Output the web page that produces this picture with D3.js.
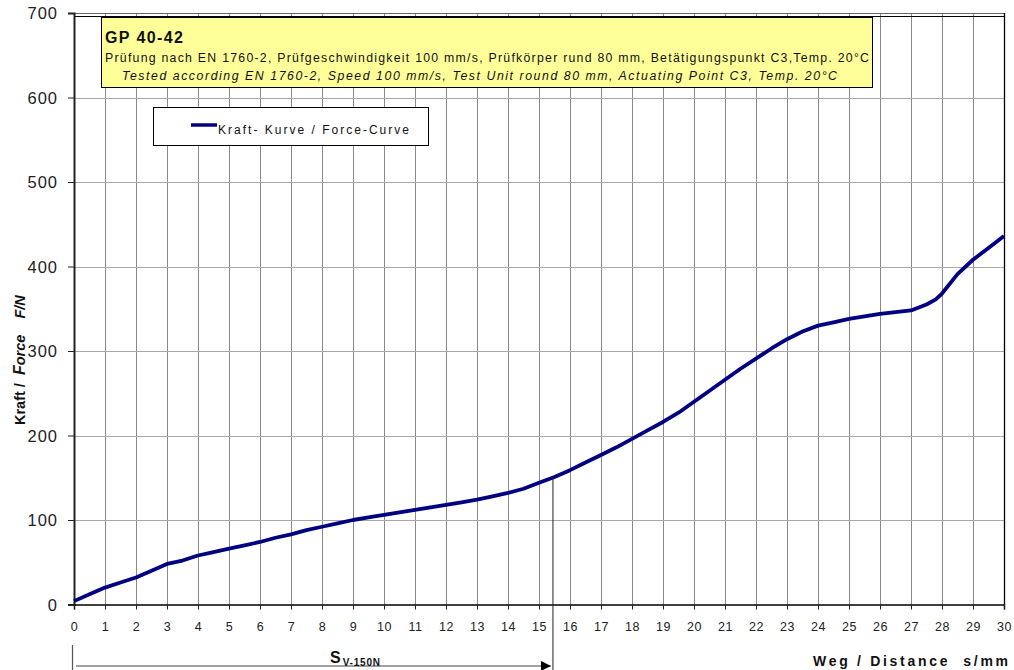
<!DOCTYPE html>
<html><head><meta charset="utf-8">
<script src="https://cdn.jsdelivr.net/npm/d3@7"></script>
<style>
html,body{margin:0;padding:0;background:#fff;}
svg{display:block;font-family:"Liberation Sans",Arial,sans-serif;}
text{white-space:pre;}
</style></head>
<body>
<svg id="c" width="1014" height="670"></svg>
<script>
// ---- data ----
const distance = [0,0.5,1,1.5,2,2.5,3,3.5,4,4.5,5,5.5,6,6.5,7,7.5,8,8.5,9,9.5,10,10.5,11,11.5,12,12.5,13,13.5,14,14.5,15,15.5,16,16.5,17,17.5,18,18.5,19,19.5,20,20.5,21,21.5,22,22.5,23,23.5,24,24.5,25,25.5,26,26.5,27,27.5,27.8,28,28.5,29,29.5,30];
const force    = [4,12,20,26,32,40,48,52,58,62,66,70,74,79,83,88,92,96,100,103,106,109,112,115,118,121,124,128,132,137,144,151,159,168,177,186,196,206,216,227,240,253,266,279,291,303,314,323,330,334,338,341,344,346,348,355,361,368,391,408,422,436];
const xTicks = d3.range(0,31);
const yTicks = [0,100,200,300,400,500,600,700];
const sv150 = 15.45;
const boxTitle = "GP 40-42";
const boxLine1 = "Prüfung nach EN 1760-2, Prüfgeschwindigkeit 100 mm/s, Prüfkörper rund 80 mm, Betätigungspunkt C3,Temp. 20°C";
const boxLine2 = "Tested according EN 1760-2, Speed 100 mm/s, Test Unit round 80 mm, Actuating Point C3, Temp. 20°C";
const legendLabel = "Kraft- Kurve / Force-Curve";

// ---- layout ----
const svg = d3.select("#c");
const x = d3.scaleLinear().domain([0,30]).range([74,1004]);
const y = d3.scaleLinear().domain([0,700]).range([604.5,13]);

// grid
svg.append("g").selectAll("line").data(xTicks.slice(1,-1)).join("line")
  .attr("x1",d=>x(d)+0.5).attr("x2",d=>x(d)+0.5).attr("y1",y(700)).attr("y2",y(0))
  .attr("stroke","#8a8a8a").attr("stroke-width",1);
svg.append("g").selectAll("line").data(yTicks.slice(1,-1)).join("line")
  .attr("x1",x(0)).attr("x2",x(30)).attr("y1",d=>Math.round(y(d))+0.5).attr("y2",d=>Math.round(y(d))+0.5)
  .attr("stroke","#a8a8a8").attr("stroke-width",1.2);

// top double border
svg.append("line").attr("x1",x(0)).attr("x2",x(30)).attr("y1",13.5).attr("y2",13.5).attr("stroke","#666").attr("stroke-width",1);
svg.append("line").attr("x1",x(0)).attr("x2",x(30)).attr("y1",16.5).attr("y2",16.5).attr("stroke","#000").attr("stroke-width",1);
// right border
svg.append("line").attr("x1",x(30)+0.5).attr("x2",x(30)+0.5).attr("y1",13).attr("y2",y(0)).attr("stroke","#000").attr("stroke-width",1.3);

// axes
const yAxis = d3.axisLeft(y).tickValues(yTicks).tickSize(6).tickPadding(10).tickFormat(d3.format("d"));
const gy = svg.append("g").attr("transform",`translate(${x(0)},0)`).call(yAxis);
gy.select(".domain").attr("stroke","#222").attr("stroke-width",2);
gy.selectAll(".tick line").attr("stroke","#222");
gy.selectAll("text").attr("font-size",16.5).attr("fill","#222").attr("font-family","Liberation Sans, Arial")
  .attr("dy","0.36em").attr("letter-spacing","1px");

const xAxis = d3.axisBottom(x).tickValues(xTicks).tickSize(5).tickPadding(13).tickFormat(d3.format("d"));
const gx = svg.append("g").attr("transform",`translate(0,${y(0)})`).call(xAxis);
gx.select(".domain").attr("stroke","#000").attr("stroke-width",1.5);
gx.selectAll(".tick line").attr("stroke","#222");
gx.selectAll("text").attr("font-size",12.5).attr("fill","#222").attr("font-family","Liberation Sans, Arial").attr("letter-spacing","0.6px");

// curve
const line = d3.line().x((d,i)=>x(distance[i])).y(d=>y(d)).curve(d3.curveLinear);
svg.append("path").datum(force).attr("d",line).attr("fill","none")
  .attr("stroke","#000080").attr("stroke-width",3.8).attr("stroke-linejoin","round");

// S_V-150N marker
const fAt = d3.scaleLinear().domain(distance).range(force);
svg.append("line").attr("x1",x(sv150)).attr("x2",x(sv150)).attr("y1",y(fAt(sv150))).attr("y2",670)
  .attr("stroke","#222").attr("stroke-width",1);
svg.append("line").attr("x1",x(0)-1.5).attr("x2",x(0)-1.5).attr("y1",645).attr("y2",670).attr("stroke","#555").attr("stroke-width",1.2);
svg.append("defs").append("marker").attr("id","arr").attr("viewBox","0 0 10 10").attr("refX",10).attr("refY",5)
  .attr("markerWidth",10).attr("markerHeight",10).attr("markerUnits","userSpaceOnUse").attr("orient","auto")
  .append("path").attr("d","M0,0L10,5L0,10Z").attr("fill","#000");
svg.append("line").attr("x1",x(0)+2).attr("x2",x(sv150)-2).attr("y1",666).attr("y2",666)
  .attr("stroke","#444").attr("stroke-width",1.2).attr("marker-end","url(#arr)");
const st = svg.append("text").attr("x",330).attr("y",663).attr("font-weight","bold").attr("font-size",16).attr("fill","#111");
st.append("tspan").text("S").attr("letter-spacing","1px");
st.append("tspan").text("V-150N").attr("font-size",10).attr("dy",3).attr("dx",1).attr("letter-spacing","0.8px");

// axis titles
svg.append("text").attr("x",813).attr("y",666).attr("font-weight","bold")
  .attr("font-size",14).attr("fill","#111").attr("textLength",195).attr("lengthAdjust","spacing")
  .text("Weg / Distance  s/mm");
const yt = svg.append("text").attr("transform","translate(25,425) rotate(-90)")
  .attr("font-weight","bold").attr("font-size",14.5).attr("fill","#111");
yt.append("tspan").text("Kraft /  ");
yt.append("tspan").text("F").attr("font-style","italic").attr("font-size",16);
yt.append("tspan").text("orce    ").attr("font-style","italic");
yt.append("tspan").text("F/N").attr("font-style","italic");

// info box
svg.append("rect").attr("x",101.5).attr("y",17.5).attr("width",771).attr("height",70)
  .attr("fill","#ffff99").attr("stroke","#000").attr("stroke-width",1);
svg.append("text").attr("x",105).attr("y",43).attr("font-weight","bold").attr("font-size",16)
  .attr("textLength",78).attr("lengthAdjust","spacing").attr("fill","#111").text(boxTitle);
svg.append("text").attr("x",105).attr("y",62).attr("font-size",12.3).attr("fill","#111")
  .attr("textLength",764).attr("lengthAdjust","spacing").text(boxLine1);
svg.append("text").attr("x",122).attr("y",80).attr("font-size",12.3).attr("font-style","italic").attr("fill","#111")
  .attr("textLength",715).attr("lengthAdjust","spacing").text(boxLine2);

// legend
svg.append("rect").attr("x",153.5).attr("y",107.5).attr("width",275).attr("height",38)
  .attr("fill","#fff").attr("stroke","#000").attr("stroke-width",1);
svg.append("line").attr("x1",191).attr("x2",217).attr("y1",125).attr("y2",125).attr("stroke","#000080").attr("stroke-width",3.5);
svg.append("text").attr("x",218).attr("y",134).attr("font-size",12).attr("fill","#111")
  .attr("textLength",191).attr("lengthAdjust","spacing").text(legendLabel);
</script>
</body></html>
